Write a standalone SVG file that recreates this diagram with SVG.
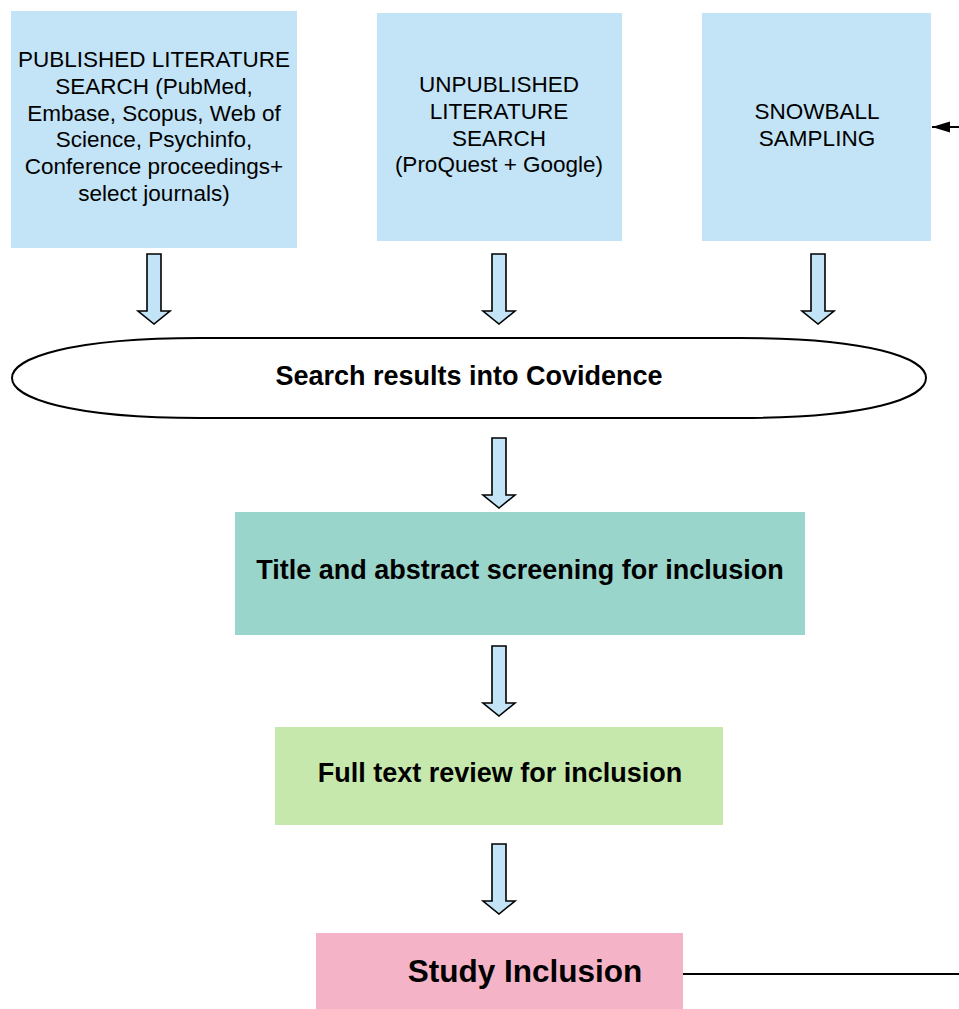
<svg xmlns="http://www.w3.org/2000/svg" width="959" height="1009" viewBox="0 0 959 1009">
<style>
.src{fill:#c3e4f6}
.t{font-family:"Liberation Sans",Arial,sans-serif;fill:#000;text-anchor:middle}
.reg{font-size:22.5px}
.b{font-weight:bold;font-size:27px}
.blk{fill:#c3e4f6;stroke:#000;stroke-width:1.6;stroke-linejoin:miter}
.ln{fill:none;stroke:#000;stroke-width:2}
</style>
<defs>
<path id="barrow" d="M -7,0 H 7 V 57 H 16 L 0,70 L -16,57 H -7 Z"/>
</defs>
<rect width="959" height="1009" fill="#fff"/>
<g id="published">
<rect class="src" x="11" y="11" width="286" height="237"/>
<text class="t reg" x="154" y="67">PUBLISHED LITERATURE</text>
<text class="t reg" x="154" y="94">SEARCH (PubMed,</text>
<text class="t reg" x="154" y="121">Embase, Scopus, Web of</text>
<text class="t reg" x="154" y="147">Science, Psychinfo,</text>
<text class="t reg" x="154" y="174">Conference proceedings+</text>
<text class="t reg" x="154" y="201">select journals)</text>
</g>
<g id="unpublished">
<rect class="src" x="377" y="13" width="245" height="228"/>
<text class="t reg" x="499" y="92">UNPUBLISHED</text>
<text class="t reg" x="499" y="119">LITERATURE</text>
<text class="t reg" x="499" y="146">SEARCH</text>
<text class="t reg" x="499" y="172">(ProQuest + Google)</text>
</g>
<g id="snowball">
<rect class="src" x="702" y="13" width="229" height="228"/>
<text class="t reg" x="817" y="119">SNOWBALL</text>
<text class="t reg" x="817" y="146">SAMPLING</text>
</g>
<g id="covidence">
<path d="M 200,338 L 740,338 C 870,338 926,358 926,378 C 926,398 870,418 740,418 L 200,418 C 70,418 12,398 12,378 C 12,358 70,338 200,338 Z" fill="#fff" stroke="#000" stroke-width="2"/>
<text class="t b" x="469" y="385">Search results into Covidence</text>
</g>
<g id="screening">
<rect x="235" y="512" width="570" height="123" fill="#9ad5cb"/>
<text class="t b" x="520" y="579">Title and abstract screening for inclusion</text>
</g>
<g id="fulltext">
<rect x="275" y="727" width="448" height="98" fill="#c7e8ac"/>
<text class="t b" x="500" y="782">Full text review for inclusion</text>
</g>
<g id="inclusion">
<rect x="316" y="933" width="367" height="76" fill="#f4b3c7"/>
<text class="t b" x="525" y="982" style="font-size:31.5px">Study Inclusion</text>
</g>
<g id="connectors">
<use href="#barrow" class="blk" transform="translate(154,254)"/>
<use href="#barrow" class="blk" transform="translate(499,254)"/>
<use href="#barrow" class="blk" transform="translate(818,254)"/>
<use href="#barrow" class="blk" transform="translate(499,438)"/>
<use href="#barrow" class="blk" transform="translate(499,646)"/>
<use href="#barrow" class="blk" transform="translate(499,844)"/>
<line class="ln" x1="683" y1="974" x2="959" y2="974"/>
<line x1="959" y1="127" x2="932" y2="127" stroke="#000" stroke-width="2"/>
<path d="M932,127 L950,121.5 L950,132.5 Z" fill="#000"/>
</g>
</svg>
